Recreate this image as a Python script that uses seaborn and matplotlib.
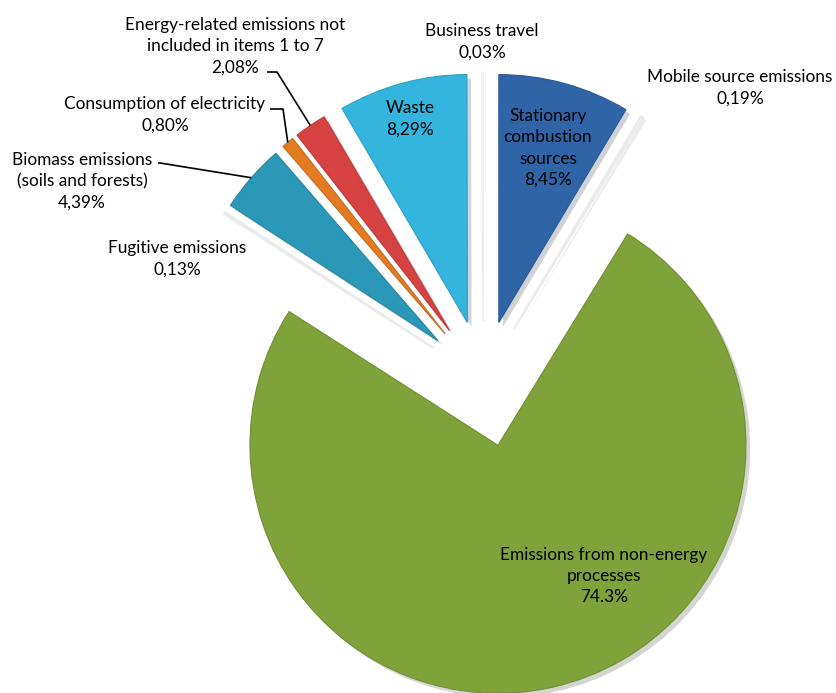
import numpy as np
import matplotlib
matplotlib.use("Agg")
import matplotlib.pyplot as plt
import matplotlib.patheffects as pe
import seaborn as sns
from matplotlib.colors import to_rgb

# ---------------------------------------------------------------- data
categories = ["Stationary combustion sources", "Mobile source emissions",
              "Emissions from non-energy processes", "Fugitive emissions",
              "Biomass emissions (soils and forests)",
              "Consumption of electricity",
              "Energy-related emissions not included in items 1 to 7",
              "Waste", "Business travel"]
shares = [8.45, 0.19, 74.3, 0.13, 4.39, 0.80, 2.08, 8.29, 0.03]
pct_labels = ["8,45%", "0,19%", "74.3%", "0,13%", "4,39%", "0,80%",
              "2,08%", "8,29%", "0,03%"]
colors = ["#2f65a6", "#ebebeb", "#80a23b", "#ebebeb", "#2c98b8",
          "#e37b22", "#d64242", "#34b5dd", "#efefef"]
explode = [0.24, 0.24, 0.27, 0.24, 0.24, 0.24, 0.24, 0.24, 0.24]

sns.set_theme(style="white")
plt.rcParams["font.family"] = ["Lato", "DejaVu Sans"]
FS = 12.4

W, H = 837, 693
R = 248
fig = plt.figure(figsize=(W / 100, H / 100), dpi=100)
ax = fig.add_axes([0, 0, 1, 1])

# pie explode is in data units, so scale by the radius
wedges, _ = ax.pie(shares, colors=colors,
                   explode=[e * R for e in explode], startangle=90,
                   counterclock=False, radius=R, center=(483, H - 380),
                   frame=True)
for w, c, v in zip(wedges, colors, shares):
    if v < 0.5:
        # the tiny slices only show up as a faint grey streak
        w.set_edgecolor(c)
        w.set_linewidth(1.5)
        w.set_path_effects([pe.SimplePatchShadow(offset=(2, -2), alpha=0.1),
                            pe.Normal()])
        continue
    dark = tuple(x * 0.88 for x in to_rgb(c))
    w.set_edgecolor(dark)
    w.set_linewidth(0.8)
    w.set_path_effects([pe.SimplePatchShadow(offset=(3, -3), alpha=0.2),
                        pe.Normal()])

ax.set_xlim(0, W)
ax.set_ylim(0, H)
ax.set_aspect("equal")
ax.axis("off")


def wedge_point(w, frac):
    ang = np.deg2rad((w.theta1 + w.theta2) / 2)
    cx, cy = w.center
    return cx + frac * w.r * np.cos(ang), cy + frac * w.r * np.sin(ang)


def label(x, y, s, color="black"):
    ax.text(x, H - y, s, ha="center", va="center", fontsize=FS,
            color=color, linespacing=1.4)


# labels inside the big wedges
label(410, 119, "Waste\n" + pct_labels[7])
label(548, 148, "Stationary\ncombustion\nsources\n" + pct_labels[0])
label(604, 576, "Emissions from non-energy\nprocesses\n" + pct_labels[2])

# outside labels
label(235, 46, "Energy-related emissions not\nincluded in items 1 to 7\n"
      + pct_labels[6])
label(165, 115, "Consumption of electricity\n" + pct_labels[5])
label(82, 181, "Biomass emissions\n(soils and forests)\n" + pct_labels[4])
label(177, 259, "Fugitive emissions\n" + pct_labels[3])
label(482, 42, "Business travel\n" + pct_labels[8])
label(740, 88, "Mobile source emissions\n" + pct_labels[1])

# leader lines: text anchor -> elbow -> wedge edge
leaders = [(6, (267, 72), (277, 72)),
           (5, (270, 109), (283, 109)),
           (4, (158, 163), (160, 163))]
for idx, start, elbow in leaders:
    px, py = wedge_point(wedges[idx], 1.0)
    ax.plot([start[0], elbow[0], px], [H - start[1], H - elbow[1], py],
            color="black", lw=1.2, solid_capstyle="butt")

fig.savefig("out.png", dpi=100)
